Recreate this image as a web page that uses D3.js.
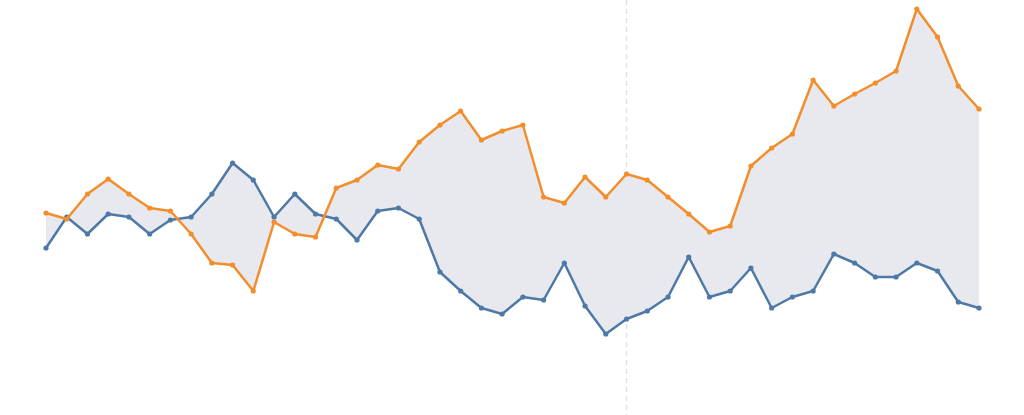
<!DOCTYPE html>
<html>
<head>
<meta charset="utf-8">
<script src="https://cdn.jsdelivr.net/npm/d3@7"></script>
<style>
  html, body { margin: 0; padding: 0; background: #fff; }
  svg { display: block; }
</style>
</head>
<body>
<svg id="chart" width="1024" height="415"></svg>
<script>
const categories = d3.range(46);
const seriesA = [137,131,156,171,156,142,139,116,87,85,59,128,116,113,162,170,185,181,208,225,239,210,219,225,153,147,173,153,176,170,153,136,118,124,184,202,216,270,244,256,267,279,341,313,264,241];
const seriesB = [102,133,116,136,133,116,130,133,156,187,170,133,156,136,131,110,139,142,131,78,59,42,36,53,50,87,44,16,31,39,53,93,53,59,82,42,53,59,96,87,73,73,87,79,48,42];
const markerIndex = 28;

const width = 1024, height = 415;
const svg = d3.select("#chart");

const x = d3.scaleLinear().domain([0, categories.length - 1]).range([46, 979]);
const y = d3.scaleLinear().domain([0, 350]).range([350, 0]);

const data = categories.map((c, i) => ({ c, a: seriesA[i], b: seriesB[i] }));

svg.append("line")
  .attr("x1", x(markerIndex)).attr("x2", x(markerIndex))
  .attr("y1", 0).attr("y2", height)
  .attr("stroke", "#e2e2e2")
  .attr("stroke-width", 1.5)
  .attr("stroke-dasharray", "5,4");

svg.append("path")
  .datum(data)
  .attr("fill", "#e8e9ee")
  .attr("d", d3.area().x(d => x(d.c)).y0(d => y(d.b)).y1(d => y(d.a)));

const series = [
  { key: "b", color: "#4e79a7" },
  { key: "a", color: "#f28e2b" }
];

series.forEach(s => {
  svg.append("path")
    .datum(data)
    .attr("fill", "none")
    .attr("stroke", s.color)
    .attr("stroke-width", 2.5)
    .attr("stroke-linejoin", "round")
    .attr("d", d3.line().x(d => x(d.c)).y(d => y(d[s.key])));
  svg.append("g")
    .selectAll("circle")
    .data(data)
    .join("circle")
    .attr("cx", d => x(d.c))
    .attr("cy", d => y(d[s.key]))
    .attr("r", 2.6)
    .attr("fill", s.color);
});
</script>
</body>
</html>
